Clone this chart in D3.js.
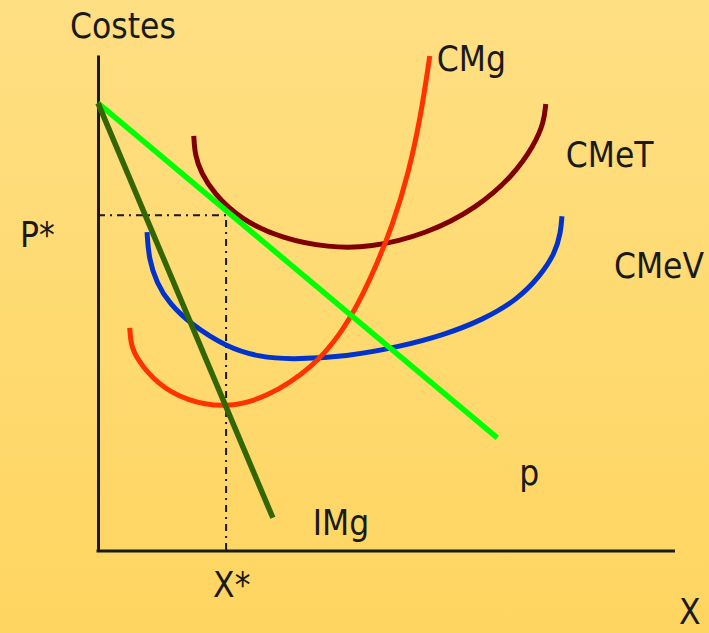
<!DOCTYPE html>
<html>
<head>
<meta charset="utf-8">
<script src="https://cdn.jsdelivr.net/npm/d3@7/dist/d3.min.js"></script>
<style>
  html, body { margin: 0; padding: 0; }
  body { width: 709px; height: 633px; overflow: hidden; }
  svg { display: block; }
  text { font-family: "DejaVu Sans Condensed", "DejaVu Sans", sans-serif; font-size: 35px; fill: #1a1a1a; }
</style>
</head>
<body>
<svg id="chart" width="709" height="633"></svg>
<script>
// ---- data (abstract units: x = cantidad, y = costes) ----
const axisLabels = { y: "Costes", x: "X" };
const equilibrium = { price: 67.7, quantity: 22.2, priceLabel: "P*", quantityLabel: "X*" };

const cmgCurve = [ // Coste marginal
  [5.5, 45.0], [5.7, 41.5], [6.8, 38.6], [10.2, 33.7], [15.4, 30.2], [22.2, 28.8],
  [29.3, 30.9], [37.3, 37.1], [41.9, 43.5], [45.2, 50.0], [48.2, 57.5], [51.0, 65.5],
  [53.8, 76.0], [56.0, 88.0], [57.5, 99.8]
];
const cmetCurve = [ // Coste medio total
  [16.6, 83.7], [16.8, 79.8], [17.9, 76.2], [20.0, 72.2], [24.6, 66.9],
  [32.1, 62.9], [40.0, 61.2], [47.0, 61.1], [57.0, 63.9], [65.7, 69.2], [71.9, 75.6],
  [75.6, 81.8], [77.3, 86.5], [77.6, 90.1]
];
const cmevCurve = [ // Coste medio variable
  [8.5, 64.3], [8.8, 58.9], [10.2, 54.0], [12.3, 50.0], [16.0, 45.8],
  [22.4, 41.0], [28.1, 39.1], [33.3, 38.6], [43.2, 39.2], [52.3, 41.2], [59.8, 43.5],
  [66.7, 46.6], [72.6, 50.6], [76.6, 55.4], [79.2, 60.0], [80.2, 64.2], [80.4, 67.5]
];
const demandLine = [[0, 90.3], [69.2, 22.8]];   // p
const imgLine = [[0, 90.3], [30.3, 6.7]];       // IMg

const seriesNames = ["CMg", "CMeT", "CMeV", "p", "IMg"];
const seriesColors = ["#ff3300", "#800000", "#0033cc", "#00ff00", "#336600"];

// ---- drawing ----
const W = 709, H = 633;
const svg = d3.select("#chart");

const defs = svg.append("defs");
const grad = defs.append("linearGradient").attr("id", "bg").attr("x1", 0).attr("y1", 0).attr("x2", 0).attr("y2", 1);
grad.append("stop").attr("offset", "0%").attr("stop-color", "#fedf83");
grad.append("stop").attr("offset", "100%").attr("stop-color", "#fed560");
svg.append("rect").attr("width", W).attr("height", H).attr("fill", "url(#bg)");

const x = d3.scaleLinear().domain([0, 100]).range([98, 675]);
const y = d3.scaleLinear().domain([0, 100]).range([551, 55]);

// axes (no ticks)
const xAxis = d3.axisBottom(x).tickValues([]).tickSizeOuter(0);
const yAxis = d3.axisLeft(y).tickValues([]).tickSizeOuter(0);
const gx = svg.append("g").attr("transform", `translate(0,${y(0)})`).call(xAxis);
const gy = svg.append("g").attr("transform", `translate(${x(0)},0)`).call(yAxis);
[gx, gy].forEach(g => g.select(".domain").attr("stroke", "#1a1a1a").attr("stroke-width", 3));
gx.select(".domain").attr("d", `M${x(0) - 1.5},0H${x(100)}`);

// equilibrium guides
const guide = d3.line().x(d => x(d[0])).y(d => y(d[1]));
svg.append("path")
  .attr("d", guide([[0, equilibrium.price], [equilibrium.quantity, equilibrium.price], [equilibrium.quantity, 0]]))
  .attr("fill", "none").attr("stroke", "#1a1a1a").attr("stroke-width", 2)
  .attr("stroke-dasharray", "7,5,2,5");

const smooth = d3.line().x(d => x(d[0])).y(d => y(d[1])).curve(d3.curveBasis);
const straight = d3.line().x(d => x(d[0])).y(d => y(d[1]));

const series = [cmgCurve, cmetCurve, cmevCurve, demandLine, imgLine];
const order = [1, 2, 0, 3, 4];
order.forEach(i => {
  svg.append("path")
    .attr("d", (i < 3 ? smooth : straight)(series[i]))
    .attr("fill", "none")
    .attr("stroke", seriesColors[i])
    .attr("stroke-width", i >= 3 ? 5.5 : 5)
    .attr("stroke-linecap", "butt");
});

// labels
function label(txt, px, py) {
  svg.append("text").attr("x", px).attr("y", py).text(txt);
}
label(axisLabels.y, x(0) - 28, y(100) - 17);
label(axisLabels.x, x(100) + 4, H - 9);
label(equilibrium.priceLabel, x(0) - 78, y(equilibrium.price) + 32);
label(equilibrium.quantityLabel, x(equilibrium.quantity) - 13, y(0) + 46);

const endOf = a => a[a.length - 1];
label(seriesNames[0], x(endOf(cmgCurve)[0]) + 7, y(endOf(cmgCurve)[1]) + 15);
label(seriesNames[1], x(endOf(cmetCurve)[0]) + 20, y(endOf(cmetCurve)[1]) + 63);
label(seriesNames[2], x(endOf(cmevCurve)[0]) + 52, y(endOf(cmevCurve)[1]) + 62);
label(seriesNames[3], x(endOf(demandLine)[0]) + 22, y(endOf(demandLine)[1]) + 47);
label(seriesNames[4], x(endOf(imgLine)[0]) + 40, y(endOf(imgLine)[1]) + 17);
</script>
</body>
</html>
